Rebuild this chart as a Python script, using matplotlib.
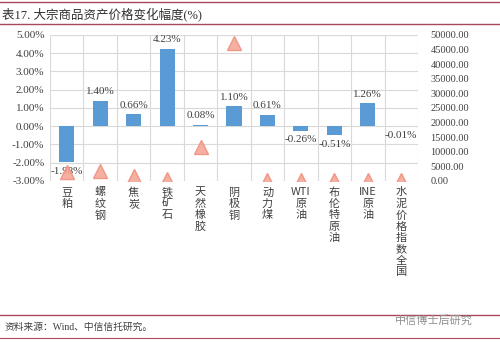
import matplotlib.pyplot as plt
import numpy as np

plt.rcParams['font.family'] = ['Liberation Serif', 'Noto Sans CJK SC']

categories = ['豆粕', '螺纹钢', '焦炭', '铁矿石', '天然橡胶', '阴极铜', '动力煤',
              'WTI原油', '布伦特原油', 'INE原油', '水泥价格指数全国']
change_pct = [-1.98, 1.40, 0.66, 4.23, 0.08, 1.10, 0.61, -0.26, -0.51, 1.26, -0.01]
price_level = [3000, 3500, 1800, 700, 11500, 47200, 250, 250, 250, 250, 250]
left_ticks = [-3, -2, -1, 0, 1, 2, 3, 4, 5]
right_ticks = [0, 5000, 10000, 15000, 20000, 25000, 30000, 35000, 40000, 45000, 50000]

fig = plt.figure(figsize=(5, 3.42), dpi=100)
ax = fig.add_axes([0.1, 0.471, 0.736, 0.427])
x = np.arange(len(categories))

grid_c = '#d9d9d9'
txt_c = '#404040'
bar_c = '#5b9bd5'
line_c = '#a8485a'

ax.bar(x, change_pct, width=0.45, color=bar_c, zorder=3)
ax.set_xlim(-0.5, len(categories) - 0.5)
ax.set_ylim(-3, 5)
ax.set_yticks(left_ticks)
ax.set_yticklabels([f'{v:.2f}%' for v in left_ticks], fontsize=8, color=txt_c)
ax.set_xticks(x)
ax.set_xticklabels([])
ax.tick_params(length=0, pad=4)
for v in left_ticks:
    ax.axhline(v, color=grid_c, lw=0.8, zorder=1)
for b in np.arange(-0.5, len(categories), 1.0):
    ax.axvline(b, color=grid_c, lw=0.8, zorder=1)
for s in ax.spines.values():
    s.set_visible(False)

for i, v in enumerate(change_pct):
    if v >= 0:
        ax.text(i, v + 0.25, f'{v:.2f}%', ha='center', va='bottom', fontsize=8, color=txt_c, zorder=5)
    else:
        ax.text(i, v - 0.25, f'{v:.2f}%', ha='center', va='top', fontsize=8, color=txt_c, zorder=5)

# category labels, stacked vertically
for i, c in enumerate(categories):
    if c.startswith('WTI') or c.startswith('INE'):
        lab = c[:3] + '\n' + '\n'.join(c[3:])
    else:
        lab = '\n'.join(c)
    ax.text(i, -3.35, lab, ha='center', va='top', fontsize=8, color=txt_c,
            linespacing=1.15, family=['Noto Sans CJK SC'])

ax2 = ax.twinx()
ax2.set_ylim(0, 50000)
ax2.plot(x, price_level, linestyle='none', marker='^', ms=10, color='#f5a898',
         markeredgecolor='#f09080', alpha=0.9, zorder=4)
ax2.set_yticks(right_ticks)
ax2.set_yticklabels([f'{v:.2f}' for v in right_ticks], fontsize=7.5, color=txt_c)
ax2.tick_params(length=0, pad=9)
for s in ax2.spines.values():
    s.set_visible(False)

# header and footer
fig.add_artist(plt.Line2D([0, 1], [1 - 2 / 342, 1 - 2 / 342], color=line_c, lw=1))
fig.add_artist(plt.Line2D([0, 1], [1 - 24 / 342, 1 - 24 / 342], color=line_c, lw=1))
fig.text(0.004, 1 - 14 / 342, '表17. 大宗商品资产价格变化幅度(%)', fontsize=9, color='#303030',
         va='center', ha='left')
fig.add_artist(plt.Line2D([0, 1], [1 - 315 / 342, 1 - 315 / 342], color=line_c, lw=1))
fig.add_artist(plt.Line2D([0, 1], [1 - 338 / 342, 1 - 338 / 342], color=line_c, lw=0.8))
fig.text(0.01, 1 - 327 / 342, '资料来源：Wind、中信信托研究。', fontsize=7, color='#404040',
         va='center', ha='left')
fig.text(0.79, 1 - 320 / 342, '中信博士后研究', fontsize=8, color='#909090',
         va='center', ha='left', family=['Noto Sans CJK SC'])

fig.savefig('out.png', dpi=100)
